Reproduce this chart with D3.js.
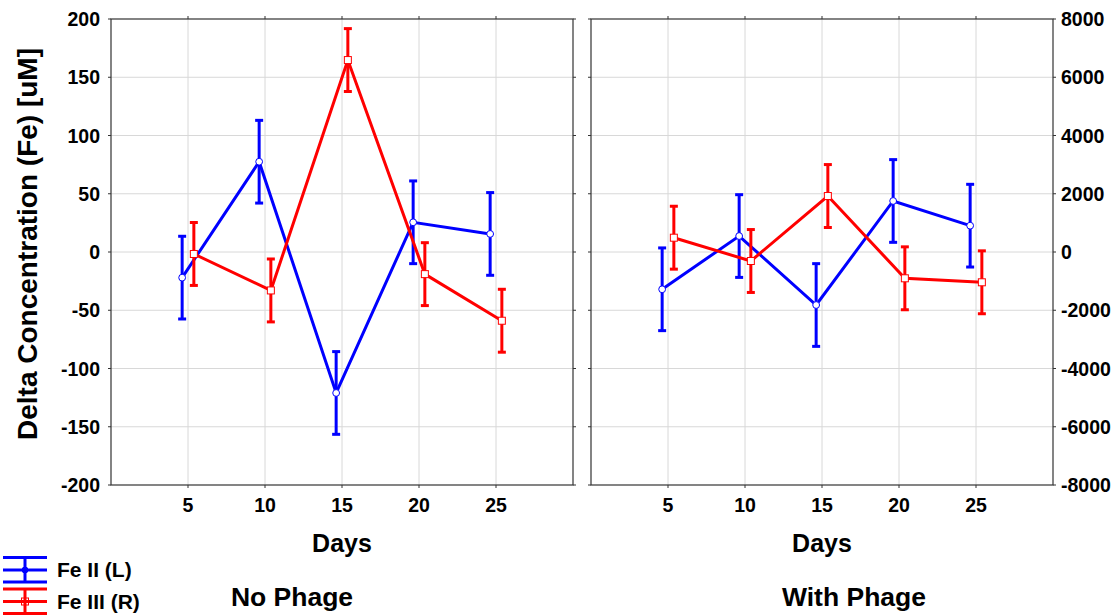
<!DOCTYPE html>
<html><head><meta charset="utf-8">
<script src="https://cdn.jsdelivr.net/npm/d3@7"></script>
<style>body{margin:0;background:#fff}svg{display:block;font-family:Arial,"Liberation Sans",sans-serif;font-weight:bold}</style>
</head><body><svg id="c" width="1120" height="615"></svg>
<script>
// ---- data ----
const days = [5, 10, 15, 20, 25];
const panels = ["No Phage", "With Phage"];
const seriesNames = ["Fe II (L)", "Fe III (R)"];
// Fe II plotted on left axis, Fe III on right axis
const feII_noPhage = [-22, 77.5, -121, 25.5, 15.5];
const feII_withPhage = [-32, 13.7, -45.5, 43.8, 22.6];
const feII_err = 35.5;
const feIII_noPhage = [-68, -1320, 6590, -760, -2360];
const feIII_withPhage = [491, -309, 1922, -903, -1040];
const feIII_err = 1080;
const leftTicks = [200, 150, 100, 50, 0, -50, -100, -150, -200];
const rightTicks = [8000, 6000, 4000, 2000, 0, -2000, -4000, -6000, -8000];
const xTicks = [5, 10, 15, 20, 25];

const svg = d3.select("#c");
const plotTop = 19, plotBottom = 485, pw = 462;
const panelX = [111, 591];
const yL = d3.scaleLinear().domain([-200, 200]).range([plotBottom, plotTop]);
const yR = d3.scaleLinear().domain([-8000, 8000]).range([plotBottom, plotTop]);
const blue = "#0000ff", red = "#ff0000";
const off = 0.38;

const panelData = [
  {fe2: feII_noPhage, fe3: feIII_noPhage},
  {fe2: feII_withPhage, fe3: feIII_withPhage}
];

panelData.forEach((pd, pi) => {
  const x0 = panelX[pi];
  const x = d3.scaleLinear().domain([0, 30]).range([x0, x0 + pw]);
  const g = svg.append("g");
  // grid
  g.selectAll(".gx").data(xTicks).join("line")
    .attr("x1", d => x(d)).attr("x2", d => x(d)).attr("y1", plotTop).attr("y2", plotBottom)
    .attr("stroke", "#d8d8d8").attr("stroke-width", 1);
  g.selectAll(".gy").data(leftTicks.slice(1, -1)).join("line")
    .attr("x1", x0).attr("x2", x0 + pw).attr("y1", d => yL(d)).attr("y2", d => yL(d))
    .attr("stroke", "#d8d8d8").attr("stroke-width", 1);
  // ticks (outward small)
  g.selectAll(".tl").data(leftTicks).join("line")
    .attr("x1", x0 - 3).attr("x2", x0).attr("y1", d => yL(d)).attr("y2", d => yL(d)).attr("stroke", "#333");
  g.selectAll(".tr").data(leftTicks).join("line")
    .attr("x1", x0 + pw).attr("x2", x0 + pw + 3).attr("y1", d => yL(d)).attr("y2", d => yL(d)).attr("stroke", "#333");
  g.selectAll(".tb").data(xTicks).join("line")
    .attr("x1", d => x(d)).attr("x2", d => x(d)).attr("y1", plotBottom).attr("y2", plotBottom + 3).attr("stroke", "#333");
  g.selectAll(".tt").data(xTicks).join("line")
    .attr("x1", d => x(d)).attr("x2", d => x(d)).attr("y1", plotTop - 3).attr("y2", plotTop).attr("stroke", "#333");
  // frame
  g.append("rect").attr("x", x0).attr("y", plotTop).attr("width", pw).attr("height", plotBottom - plotTop)
    .attr("fill", "none").attr("stroke", "#333").attr("stroke-width", 1.2);
  // x tick labels
  g.selectAll(".xl").data(xTicks).join("text")
    .attr("x", d => x(d)).attr("y", 512).attr("text-anchor", "middle")
    .attr("font-size", 19.5).text(d => d);
  g.append("text").attr("x", x0 + pw / 2).attr("y", 552).attr("text-anchor", "middle")
    .attr("font-size", 25).text("Days");

  const series = [
    {vals: pd.fe2, err: feII_err, y: yL, color: blue, dx: -off, marker: "circle"},
    {vals: pd.fe3, err: feIII_err, y: yR, color: red, dx: off, marker: "square"}
  ];
  series.forEach(s => {
    const pts = days.map((d, i) => ({x: x(d + s.dx), v: s.vals[i]}));
    const sg = g.append("g");
    sg.append("path").datum(pts)
      .attr("d", d3.line().x(p => p.x).y(p => s.y(p.v)))
      .attr("fill", "none").attr("stroke", s.color).attr("stroke-width", 3).attr("stroke-linejoin", "miter");
    pts.forEach(p => {
      const yt = s.y(p.v + s.err), yb = s.y(p.v - s.err);
      sg.append("line").attr("x1", p.x).attr("x2", p.x).attr("y1", yt).attr("y2", yb)
        .attr("stroke", s.color).attr("stroke-width", 3);
      [yt, yb].forEach(yy => sg.append("line").attr("x1", p.x - 4).attr("x2", p.x + 4)
        .attr("y1", yy).attr("y2", yy).attr("stroke", s.color).attr("stroke-width", 3));
      if (s.marker === "circle") {
        sg.append("circle").attr("cx", p.x).attr("cy", s.y(p.v)).attr("r", 3.4)
          .attr("fill", "#fff").attr("stroke", s.color).attr("stroke-width", 1);
      } else {
        sg.append("rect").attr("x", p.x - 3.5).attr("y", s.y(p.v) - 3.5).attr("width", 7).attr("height", 7)
          .attr("fill", "#fff").attr("stroke", s.color).attr("stroke-width", 1);
      }
    });
  });
});

// left axis labels
svg.selectAll(".ly").data(leftTicks).join("text")
  .attr("x", 100).attr("y", d => yL(d) + 7).attr("text-anchor", "end")
  .attr("font-size", 19.5).text(d => d);
// right axis labels
svg.selectAll(".ry").data(rightTicks).join("text")
  .attr("x", 1061).attr("y", d => yR(d) + 7).attr("text-anchor", "start")
  .attr("font-size", 19.5).text(d => d);
// y title
svg.append("text").attr("transform", "translate(37,244) rotate(-90)").attr("text-anchor", "middle")
  .attr("font-size", 28).text("Delta Concentration (Fe) [uM]");

// panel titles
svg.append("text").attr("x", 292).attr("y", 606).attr("text-anchor", "middle").attr("font-size", 26.5).text(panels[0]);
svg.append("text").attr("x", 854).attr("y", 606).attr("text-anchor", "middle").attr("font-size", 26.5).text(panels[1]);

// legend
const leg = [{c: blue, y: 570, m: "circle"}, {c: red, y: 601.5, m: "square"}];
leg.forEach((l, i) => {
  const lg = svg.append("g");
  [-12.5, 0, 12].forEach(dy => lg.append("line").attr("x1", 3).attr("x2", 47).attr("y1", l.y + dy).attr("y2", l.y + dy)
    .attr("stroke", l.c).attr("stroke-width", 3));
  lg.append("line").attr("x1", 25).attr("x2", 25).attr("y1", l.y - 12.5).attr("y2", l.y + 12).attr("stroke", l.c).attr("stroke-width", 3);
  if (l.m === "circle") lg.append("circle").attr("cx", 25).attr("cy", l.y).attr("r", 3).attr("fill", l.c).attr("stroke", l.c);
  else lg.append("rect").attr("x", 21.5).attr("y", l.y - 3.5).attr("width", 7).attr("height", 7).attr("fill", "none").attr("stroke", l.c);
  lg.append("text").attr("x", 57).attr("y", l.y + 7).attr("font-size", 21).text(seriesNames[i]);
});
</script></body></html>
